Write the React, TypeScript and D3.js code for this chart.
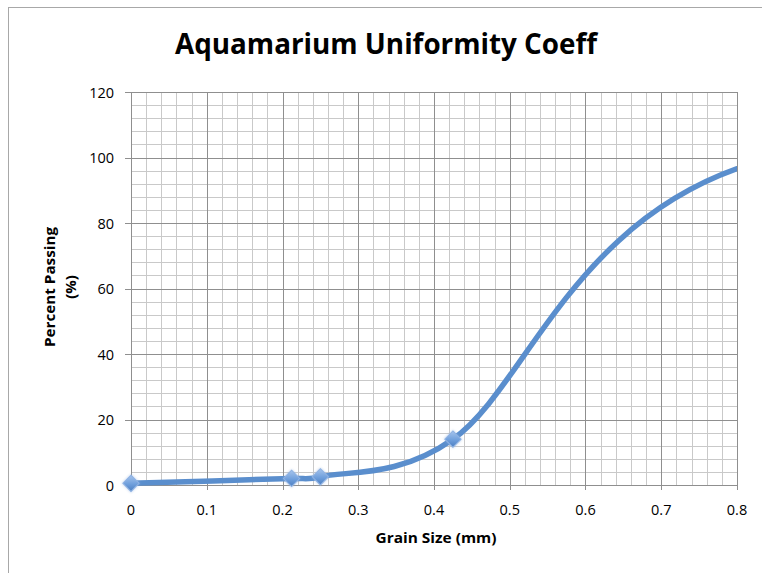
import React from "react";
import * as d3 from "d3";

// Sieve analysis: grain size (mm) vs cumulative percent passing
const grainSize = [0, 0.212, 0.25, 0.425, 0.85, 2.0];
const percentPassing = [0.5, 2.0, 2.5, 14, 100, 100];

const xTickValues = [0, 0.1, 0.2, 0.3, 0.4, 0.5, 0.6, 0.7, 0.8];
const xTickLabels = ["0", "0.1", "0.2", "0.3", "0.4", "0.5", "0.6", "0.7", "0.8"];
const yTickValues = [0, 20, 40, 60, 80, 100, 120];
const yTickLabels = ["0", "20", "40", "60", "80", "100", "120"];

const chartTitle = "Aquamarium Uniformity Coeff";
const xTitle = "Grain Size (mm)";
const yTitleLines = ["Percent Passing", "(%)"];

const W = 762;
const H = 573;
const plot = { left: 131, right: 737, top: 92, bottom: 485 };

const FONT = "'Open Sans', 'Noto Sans', sans-serif";
const BLUE = "#5a8ecd";

// Spreadsheet-style smoothed line: cubic Bezier segments whose control arms
// follow the neighbouring points (1/6 factor), capped at half the segment length.
class SmoothSegments {
  _context: any;
  _pts: [number, number][] = [];
  constructor(context: any) {
    this._context = context;
  }
  areaStart() {}
  areaEnd() {}
  lineStart() {
    this._pts = [];
  }
  point(x: number, y: number) {
    this._pts.push([+x, +y]);
  }
  lineEnd() {
    const p = this._pts;
    const ctx = this._context;
    if (!p.length) return;
    const dist = (a: [number, number], b: [number, number]) =>
      Math.hypot(b[0] - a[0], b[1] - a[1]);
    ctx.moveTo(p[0][0], p[0][1]);
    for (let i = 0; i < p.length - 1; i++) {
      const p0 = p[i - 1] ?? p[i];
      const p1 = p[i];
      const p2 = p[i + 1];
      const p3 = p[i + 2] ?? p[i + 1];
      const d12 = dist(p1, p2);
      const d02 = dist(p0, p2);
      const d13 = dist(p1, p3);
      let f1 = 1 / 6;
      let f2 = 1 / 6;
      if (d02 / 6 >= d12 / 2 && d02 > 0) f1 = d12 / d02 / 2;
      if (d13 / 6 >= d12 / 2 && d13 > 0) f2 = d12 / d13 / 2;
      const c1x = p1[0] + (p2[0] - p0[0]) * f1;
      const c1y = p1[1] + (p2[1] - p0[1]) * f1;
      const c2x = p2[0] - (p3[0] - p1[0]) * f2;
      const c2y = p2[1] - (p3[1] - p1[1]) * f2;
      ctx.bezierCurveTo(c1x, c1y, c2x, c2y, p2[0], p2[1]);
    }
  }
}
const curveSmoothSegments = (context: any) => new SmoothSegments(context) as any;

export default function App() {
  const x = d3.scaleLinear().domain([0, 0.8]).range([plot.left, plot.right]);
  const y = d3.scaleLinear().domain([0, 120]).range([plot.bottom, plot.top]);

  const points = grainSize.map((g, i) => ({ g, p: percentPassing[i] }));
  const line = d3
    .line<{ g: number; p: number }>()
    .x((d) => x(d.g))
    .y((d) => y(d.p))
    .curve(curveSmoothSegments);

  // minor gridlines: 5 per major interval
  const xMinor = d3.range(0, 41).map((i) => i * 0.02);
  const yMinor = d3.range(0, 31).map((i) => i * 4);

  const visible = points.filter((d) => d.g <= 0.8);
  const crisp = (v: number) => Math.round(v) + 0.5;

  return (
    <svg
      width={W}
      height={H}
      style={{ position: "absolute", left: 0, top: 0, background: "#fff" }}
    >
      <defs>
        <clipPath id="plotClip">
          <rect
            x={plot.left}
            y={plot.top - 10}
            width={plot.right - plot.left}
            height={plot.bottom - plot.top + 20}
          />
        </clipPath>
        <linearGradient id="markerFill" x1="0" y1="0" x2="1" y2="1">
          <stop offset="0%" stopColor="#a6c4ec" />
          <stop offset="55%" stopColor="#6f9fdc" />
          <stop offset="100%" stopColor="#4c7fc2" />
        </linearGradient>
        <filter id="soft" x="-40%" y="-40%" width="180%" height="180%">
          <feGaussianBlur stdDeviation="0.9" />
        </filter>
      </defs>

      {/* outer chart frame */}
      <rect x={8.5} y={7.5} width={W + 20} height={H + 20} fill="none" stroke="#a8a8a8" />

      {/* title */}
      <text
        x={386}
        y={54}
        textAnchor="middle"
        fontFamily={FONT}
        fontWeight={700}
        fontSize={28}
        textLength={422}
        lengthAdjust="spacingAndGlyphs"
        fill="#000"
      >
        {chartTitle}
      </text>

      {/* minor grid */}
      <g stroke="#c9c9c9" strokeWidth={1}>
        {xMinor.map((v, i) =>
          i % 5 === 0 ? null : (
            <line key={"xm" + i} x1={crisp(x(v))} x2={crisp(x(v))} y1={plot.top} y2={plot.bottom} />
          )
        )}
        {yMinor.map((v, i) =>
          i % 5 === 0 ? null : (
            <line key={"ym" + i} x1={plot.left} x2={plot.right} y1={crisp(y(v))} y2={crisp(y(v))} />
          )
        )}
      </g>
      {/* major grid */}
      <g stroke="#8f8f8f" strokeWidth={1}>
        {xTickValues.map((v, i) => (
          <line key={"xM" + i} x1={crisp(x(v))} x2={crisp(x(v))} y1={plot.top} y2={plot.bottom + 5} />
        ))}
        {yTickValues.map((v, i) => (
          <line key={"yM" + i} x1={plot.left - 6} x2={plot.right} y1={crisp(y(v))} y2={crisp(y(v))} />
        ))}
      </g>

      {/* y tick labels */}
      <g fontFamily={FONT} fontSize={14.5} fill="#000" textAnchor="end">
        {yTickValues.map((v, i) => (
          <text key={"yl" + i} x={114} y={y(v) + 5.5}>
            {yTickLabels[i]}
          </text>
        ))}
      </g>
      {/* x tick labels */}
      <g fontFamily={FONT} fontSize={14.5} fill="#000" textAnchor="middle">
        {xTickValues.map((v, i) => (
          <text key={"xl" + i} x={x(v)} y={515}>
            {xTickLabels[i]}
          </text>
        ))}
      </g>

      {/* axis titles */}
      <text
        x={436}
        y={543}
        textAnchor="middle"
        fontFamily={FONT}
        fontWeight={700}
        fontSize={15}
        textLength={121}
        lengthAdjust="spacingAndGlyphs"
      >
        {xTitle}
      </text>
      <g transform="translate(0,287) rotate(-90)" fontFamily={FONT} fontWeight={700} fontSize={15}>
        <text x={0} y={55} textAnchor="middle" textLength={120} lengthAdjust="spacingAndGlyphs">
          {yTitleLines[0]}
        </text>
        <text x={0} y={76} textAnchor="middle">
          {yTitleLines[1]}
        </text>
      </g>

      {/* gradation curve */}
      <path
        d={line(points) ?? ""}
        fill="none"
        stroke={BLUE}
        strokeWidth={5.5}
        strokeLinejoin="round"
        clipPath="url(#plotClip)"
      />

      {/* markers */}
      {visible.map((d, i) => (
        <g key={"m" + i} transform={`translate(${x(d.g)},${y(d.p)}) rotate(45)`}>
          <rect x={-6.5} y={-6.5} width={13} height={13} fill="#8fb2e0" opacity={0.55} filter="url(#soft)" />
          <rect
            x={-5.75}
            y={-5.75}
            width={11.5}
            height={11.5}
            fill="url(#markerFill)"
            stroke="#8fb2e3"
            strokeWidth={1}
          />
        </g>
      ))}
    </svg>
  );
}
